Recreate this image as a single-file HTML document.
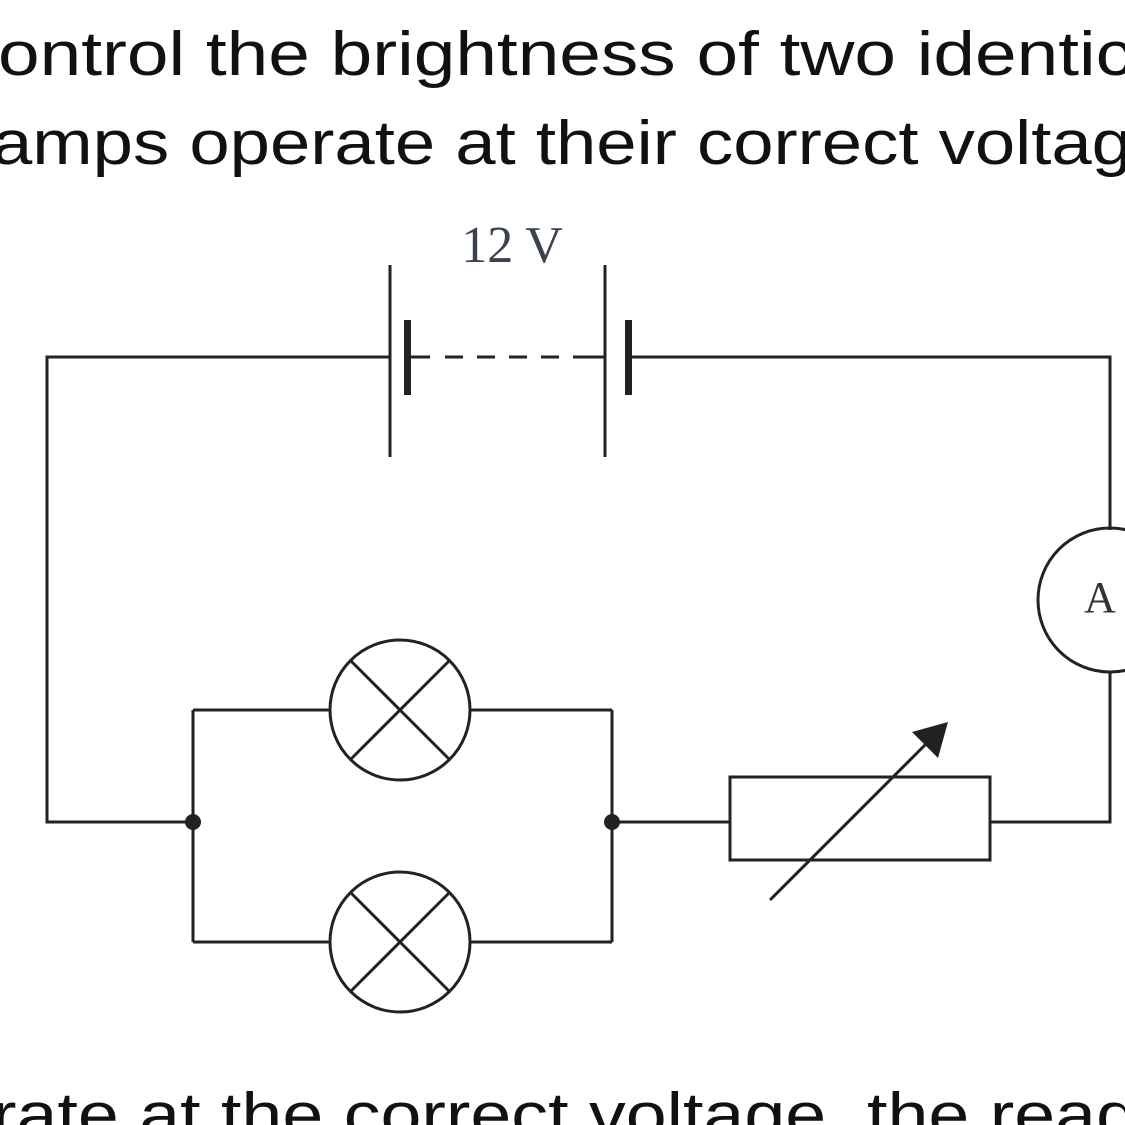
<!DOCTYPE html>
<html><head><style>body{margin:0;background:#fff}svg{display:block}</style></head><body>
<svg width="1125" height="1125" viewBox="0 0 1125 1125" xmlns="http://www.w3.org/2000/svg">
<g font-family="Liberation Sans, sans-serif" font-size="62" fill="#111">
<text x="-2" y="75" textLength="1135" lengthAdjust="spacingAndGlyphs">ontrol the brightness of two identic</text>
<text x="-8" y="164" textLength="1140" lengthAdjust="spacingAndGlyphs">amps operate at their correct voltag</text>
<text x="-8" y="1136" textLength="1145" lengthAdjust="spacingAndGlyphs">rate at the correct voltage, the read</text>
</g>
<text x="512" y="262" font-family="Liberation Serif, serif" font-size="52" fill="#3a4250" text-anchor="middle">12 V</text>
<g stroke="#222" stroke-width="3" fill="none">
<polyline points="390,357 47,357 47,822 193,822"/>
<line x1="390" y1="265" x2="390" y2="457"/>
<line x1="605" y1="265" x2="605" y2="457"/>
<line x1="407" y1="357" x2="430" y2="357"/>
<line x1="445" y1="357" x2="590" y2="357" stroke-dasharray="18,14"/>
<line x1="590" y1="357" x2="605" y2="357"/>
<polyline points="628,357 1110,357 1110,530"/>
<polyline points="1110,672 1110,822 990,822"/>
<circle cx="1110" cy="600" r="72"/>
<rect x="730" y="777" width="260" height="83"/>
<line x1="612" y1="822" x2="730" y2="822"/>
<line x1="193" y1="710" x2="193" y2="942"/>
<line x1="612" y1="710" x2="612" y2="942"/>
<line x1="193" y1="710" x2="330" y2="710"/>
<line x1="470" y1="710" x2="612" y2="710"/>
<line x1="193" y1="942" x2="330" y2="942"/>
<line x1="470" y1="942" x2="612" y2="942"/>
<circle cx="400" cy="710" r="70"/>
<circle cx="400" cy="942" r="70"/>
<line x1="350" y1="660" x2="450" y2="760"/><line x1="450" y1="660" x2="350" y2="760"/>
<line x1="350" y1="892" x2="450" y2="992"/><line x1="450" y1="892" x2="350" y2="992"/>
<line x1="770" y1="900" x2="930" y2="740"/>
</g>
<g fill="#222">
<rect x="404" y="320" width="7" height="75"/>
<rect x="625" y="320" width="7" height="75"/>
<circle cx="193" cy="822" r="8"/><circle cx="612" cy="822" r="8"/>
<polygon points="948,722 938,758 912,732"/>
</g>
<text x="1100" y="612" font-family="Liberation Serif, serif" font-size="44" fill="#333" text-anchor="middle">A</text>
</svg>
</body></html>
